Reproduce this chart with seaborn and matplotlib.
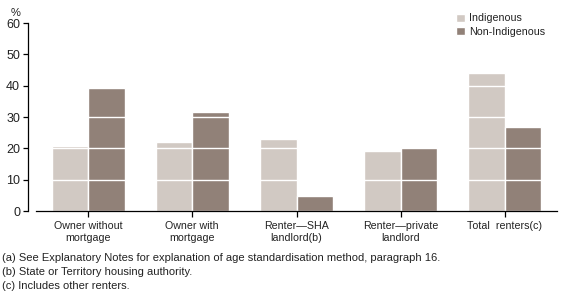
import matplotlib
matplotlib.use("Agg")
import matplotlib.pyplot as plt
import seaborn as sns
import pandas as pd

categories = ["Owner without\nmortgage", "Owner with\nmortgage", "Renter\u2014SHA\nlandlord(b)",
              "Renter\u2014private\nlandlord", "Total  renters(c)"]
indigenous = [20.7, 22.0, 23.0, 19.1, 44.0]
non_indigenous = [39.2, 31.5, 4.8, 20.4, 26.8]
series = ["Indigenous", "Non-Indigenous"]
colors = ["#D1C9C3", "#918178"]
yticks = [0, 10, 20, 30, 40, 50, 60]
footnotes = ["(a) See Explanatory Notes for explanation of age standardisation method, paragraph 16.",
             "(b) State or Territory housing authority.",
             "(c) Includes other renters."]

df = pd.DataFrame({
    "category": categories * 2,
    "value": indigenous + non_indigenous,
    "series": [series[0]] * len(categories) + [series[1]] * len(categories),
})

sns.set_style("white")
plt.rcParams["font.family"] = ["Liberation Sans", "DejaVu Sans"]
txt = "#222222"

fig = plt.figure(figsize=(5.64, 2.98), dpi=100)
W, H = 564, 298
ax = fig.add_axes([36 / W, (H - 211) / H, (557 - 36) / W, (211 - 23) / H])

sns.barplot(data=df, x="category", y="value", hue="series", palette=colors,
            width=0.7, saturation=1, ax=ax, legend=True)

ax.set_xlim(-0.5, len(categories) - 0.5)
ax.set_ylim(0, 60)
ax.set_yticks(yticks)
ax.set_xlabel("")
ax.set_ylabel("")

for y in yticks[1:-1]:
    ax.axhline(y, color="white", linewidth=1.0, zorder=3)

for s in ["top", "right"]:
    ax.spines[s].set_visible(False)
ax.spines["left"].set_position(("outward", 6))
ax.spines["left"].set_color("black")
ax.spines["bottom"].set_color("black")
ax.spines["left"].set_linewidth(0.9)
ax.spines["bottom"].set_linewidth(0.9)

ax.tick_params(axis="y", direction="out", length=3.5, width=0.9, color="black",
               labelsize=9, labelcolor=txt, pad=2, left=True)
ax.tick_params(axis="x", direction="out", length=4, width=0.9, color="black",
               labelsize=7.7, labelcolor=txt, pad=3, bottom=True)
for lab in ax.get_xticklabels():
    lab.set_linespacing(1.3)

fig.text(16 / W, 1 - 13 / H, "%", fontsize=8, color=txt, ha="center", va="center")

leg = ax.legend(frameon=False, loc="upper left", bbox_to_anchor=(451 / W, 1 - 8 / H),
                bbox_transform=fig.transFigure, fontsize=7.7, handlelength=0.8,
                handleheight=0.8, handletextpad=0.4, labelspacing=0.35, borderpad=0)
for t in leg.get_texts():
    t.set_color(txt)

for i, note in enumerate(footnotes):
    fig.text(2 / W, 1 - (258 + 14 * i) / H, note, fontsize=8, color=txt,
             ha="left", va="center")

fig.savefig("out.png", dpi=100)
